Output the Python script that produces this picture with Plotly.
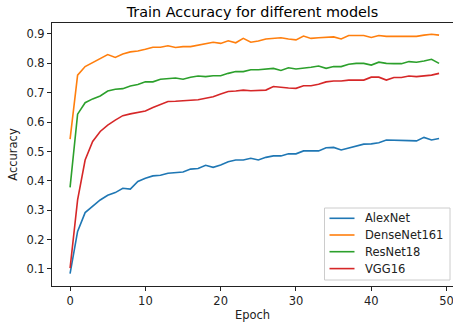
import plotly.graph_objects as go

epochs = list(range(50))

alexnet = [0.084, 0.228, 0.292, 0.315, 0.335, 0.351, 0.360, 0.375, 0.372, 0.398,
           0.409, 0.417, 0.419, 0.426, 0.428, 0.430, 0.440, 0.442, 0.453, 0.446,
           0.454, 0.465, 0.471, 0.471, 0.477, 0.471, 0.480, 0.485, 0.485, 0.492,
           0.492, 0.502, 0.502, 0.502, 0.513, 0.514, 0.505, 0.511, 0.519, 0.525,
           0.526, 0.530, 0.539, 0.539, 0.538, 0.537, 0.536, 0.548, 0.539, 0.544]

densenet161 = [0.542, 0.760, 0.789, 0.802, 0.816, 0.830, 0.820, 0.832, 0.839, 0.842,
               0.848, 0.855, 0.855, 0.860, 0.854, 0.857, 0.857, 0.862, 0.867, 0.872,
               0.868, 0.877, 0.870, 0.885, 0.872, 0.876, 0.883, 0.885, 0.887, 0.883,
               0.880, 0.893, 0.885, 0.887, 0.888, 0.890, 0.883, 0.895, 0.895, 0.895,
               0.888, 0.895, 0.892, 0.892, 0.893, 0.893, 0.892, 0.896, 0.899, 0.896]

resnet18 = [0.378, 0.627, 0.666, 0.679, 0.689, 0.706, 0.712, 0.714, 0.723, 0.728,
            0.737, 0.737, 0.746, 0.749, 0.750, 0.746, 0.753, 0.757, 0.755, 0.758,
            0.758, 0.766, 0.772, 0.772, 0.778, 0.778, 0.780, 0.783, 0.776, 0.785,
            0.781, 0.783, 0.787, 0.791, 0.783, 0.789, 0.789, 0.797, 0.800, 0.800,
            0.794, 0.804, 0.800, 0.799, 0.799, 0.806, 0.804, 0.808, 0.814, 0.800]

vgg16 = [0.103, 0.335, 0.471, 0.534, 0.568, 0.590, 0.607, 0.622, 0.628, 0.632,
         0.638, 0.650, 0.661, 0.670, 0.671, 0.673, 0.675, 0.676, 0.681, 0.686,
         0.696, 0.704, 0.706, 0.709, 0.707, 0.709, 0.709, 0.721, 0.718, 0.716,
         0.715, 0.724, 0.724, 0.729, 0.737, 0.740, 0.740, 0.743, 0.743, 0.743,
         0.753, 0.753, 0.743, 0.752, 0.752, 0.757, 0.755, 0.758, 0.760, 0.766]

names = ["AlexNet", "DenseNet161", "ResNet18", "VGG16"]
values = [alexnet, densenet161, resnet18, vgg16]
colors = ["#1f77b4", "#ff7f0e", "#2ca02c", "#d62728"]

xticks = [0, 10, 20, 30, 40, 50]
yticks = [0.1, 0.2, 0.3, 0.4, 0.5, 0.6, 0.7, 0.8, 0.9]

W, H = 453, 326
ML, MR, MT, MB = 52, 0, 23, 40
PW, PH = W - ML - MR, H - MT - MB


def px(x):
    return (x - ML) / PW


def py(y):
    return (H - MB - y) / PH


fig = go.Figure()
for name, vals, col in zip(names, values, colors):
    fig.add_trace(go.Scatter(x=epochs, y=vals, mode="lines", name=name,
                             line=dict(color=col, width=1.6), showlegend=False))

font = "DejaVu Sans"

# matplotlib-style legend box (upper-left corner at 324,208; lower-right at 450,280)
shapes = [dict(type="rect", xref="paper", yref="paper",
               x0=px(324.5), x1=px(450), y0=py(280), y1=py(208),
               fillcolor="rgba(255,255,255,0.85)",
               line=dict(color="#cccccc", width=1), layer="above")]
annotations = []
row_y = [218.3, 235, 251.7, 268.6]
for name, col, ry in zip(names, colors, row_y):
    shapes.append(dict(type="line", xref="paper", yref="paper",
                       x0=px(329.5), x1=px(354.5), y0=py(ry), y1=py(ry),
                       line=dict(color=col, width=1.6), layer="above"))
    annotations.append(dict(text=name, xref="paper", yref="paper",
                            x=px(363), y=py(ry), xanchor="left", yanchor="middle",
                            showarrow=False,
                            font=dict(family=font, size=11.5, color="#222")))

fig.update_layout(
    width=W, height=H,
    margin=dict(l=ML, r=MR, t=MT, b=MB),
    paper_bgcolor="white", plot_bgcolor="white",
    font=dict(family=font, size=11.5, color="#222"),
    title=dict(text="Train Accuracy for different models", x=0.5, xref="paper",
               xanchor="center", y=1 - 12 / H, yanchor="middle",
               font=dict(family=font, size=14.4, color="black")),
    showlegend=False,
    shapes=shapes,
    annotations=annotations,
)
fig.update_xaxes(range=[-2.40, 50.85], tickvals=xticks, ticks="outside", ticklen=4,
                 tickcolor="#222", showline=True, linecolor="#222", linewidth=1,
                 mirror=True, showgrid=False, zeroline=False,
                 ticklabeloverflow="allow",
                 title=dict(text="Epoch", font=dict(family=font, size=11.5), standoff=4))
fig.update_yaxes(range=[0.0421, 0.9374], tickvals=yticks, ticks="outside", ticklen=4,
                 tickcolor="#222", showline=True, linecolor="#222", linewidth=1,
                 mirror=False, showgrid=False, zeroline=False,
                 title=dict(text="Accuracy", font=dict(family=font, size=11.5), standoff=6))

fig.write_html("out.html")
